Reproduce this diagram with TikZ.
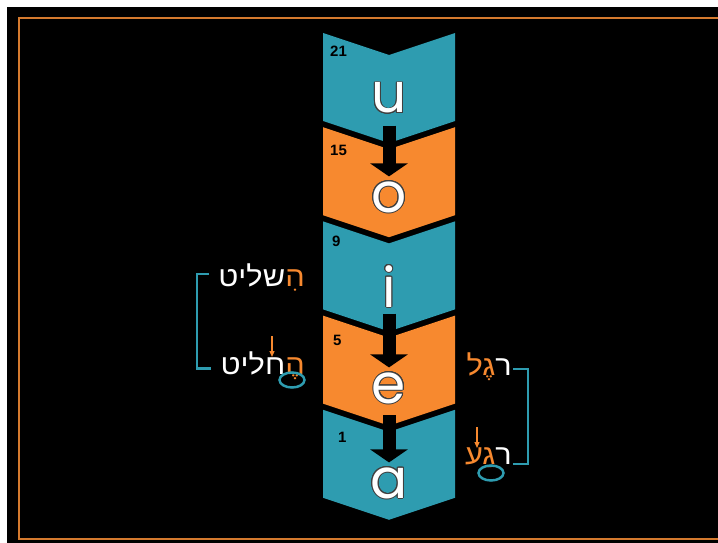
\documentclass[tikz,border=0pt]{standalone}
\usepackage{fontspec}
\usepackage{contour}
\usetikzlibrary{arrows.meta,shapes.geometric}
\setmainfont{Liberation Sans}
\newfontfamily\vowelfont{Poppins}
\newfontfamily\hebrewfont[Script=Hebrew, FakeStretch=1.1]{Liberation Sans}
\TeXXeTstate=1
\definecolor{vteal}{HTML}{2E9CB0}
\definecolor{vorange}{HTML}{F7892F}
\definecolor{frameorange}{HTML}{D57A2E}
\contourlength{1pt}

\begin{document}
\begin{tikzpicture}[x = 1pt, y = -1pt,
        vowel/.style = {font = \vowelfont\fontsize{55}{55}\selectfont, text = white, inner sep = 0pt, anchor = base},
        count/.style = {font = \bfseries\fontsize{15}{15}\selectfont, text = black, inner sep = 0pt, anchor = base west},
        fat arrow/.style = {line width = 13pt, -{Triangle[width = 37pt, length = 13pt]}, shorten < = 27pt, shorten > = 21pt},
        word/.style = {font = \hebrewfont\fontsize{28}{28}\selectfont, text = white, inner sep = 0pt, anchor = base east},
        bracket/.style = {draw = vteal, line width = 2.5pt},
        ring/.style = {ellipse, draw = vteal, line width = 2.5pt, minimum width = 25pt, minimum height = 15pt, inner sep = 0pt},
        hint arrow/.style = {draw = vorange, line width = 1.2pt, -{Triangle[width = 5pt, length = 6pt]}}]
        \useasboundingbox (0,0) rectangle (718,543);
        \fill [white] (0,0) rectangle (718,543);
        \fill [black] (7,7) rectangle (718,543);
        \draw [frameorange, line width = 2pt] (722,18) -- (19,18) -- (19,539) -- (722,539);

        % the five chevrons, top to bottom
        \foreach \k/\fillc/\l/\base/\n/\nx/\ny in {0/vteal/u/113/21/330/57, 1/vorange/o/212/15/330/155,
                2/vteal/i/307/9/332/246, 3/vorange/e/403/5/333/345, 4/vteal/a/498/1/338/442} {
            \pgfmathsetmacro\ytop{33 + 94.2*\k}
            \fill [\fillc] (323,\ytop) -- (389,\ytop+22) -- (455,\ytop) -- (455,\ytop+88)
                -- (389,\ytop+110) -- (323,\ytop+88) -- cycle;
            \node [vowel] (letter \l) at (389,\base) {\contour{black!75}{\l}};
            \node [count] (count \n) at (\nx,\ny) {\n};
        }
        \draw [fat arrow] (letter u.center) -- (letter o.center);
        \draw [fat arrow] (letter i.center) -- (letter e.center);
        \draw [fat arrow] (letter e.center) -- (letter a.center);

        % left pair
        \node [word] (hishlit) at (305,286) {\beginR שליט\endR{\color{vorange}\beginR הִ\endR}};
        \node [word] (hehlit) at (305,374) {\beginR חליט\endR{\color{vorange}\beginR הֶ\endR}};
        \draw [bracket] ([xshift = -9pt, yshift = 3pt]hishlit.west) -- ++(-12,0) |- ([xshift = -9pt, yshift = -3pt]hehlit.west);
        \node [ring] (segol ring) at (292,380) {};
        \coordinate (het top) at (272,336);
        \coordinate (het mark) at (272,357);
        \draw [hint arrow] (het top) -- (het mark);

        % right pair
        \node [word] (regel) at (512,375) {{\color{vorange}\beginR גֶל\endR}\beginR ר\endR};
        \node [word] (rega) at (512,464) {{\color{vorange}\beginR גַע\endR}\beginR ר\endR};
        \draw [bracket] ([xshift = 1pt, yshift = 6pt]regel.base east) -- ++(15,0) |- ([xshift = 1pt]rega.base east);
        \node [ring] (patah ring) at (491,473) {};
        \coordinate (ayin top) at (477,427);
        \coordinate (ayin mark) at (477,448);
        \draw [hint arrow] (ayin top) -- (ayin mark);
    \end{tikzpicture}
\end{document}
